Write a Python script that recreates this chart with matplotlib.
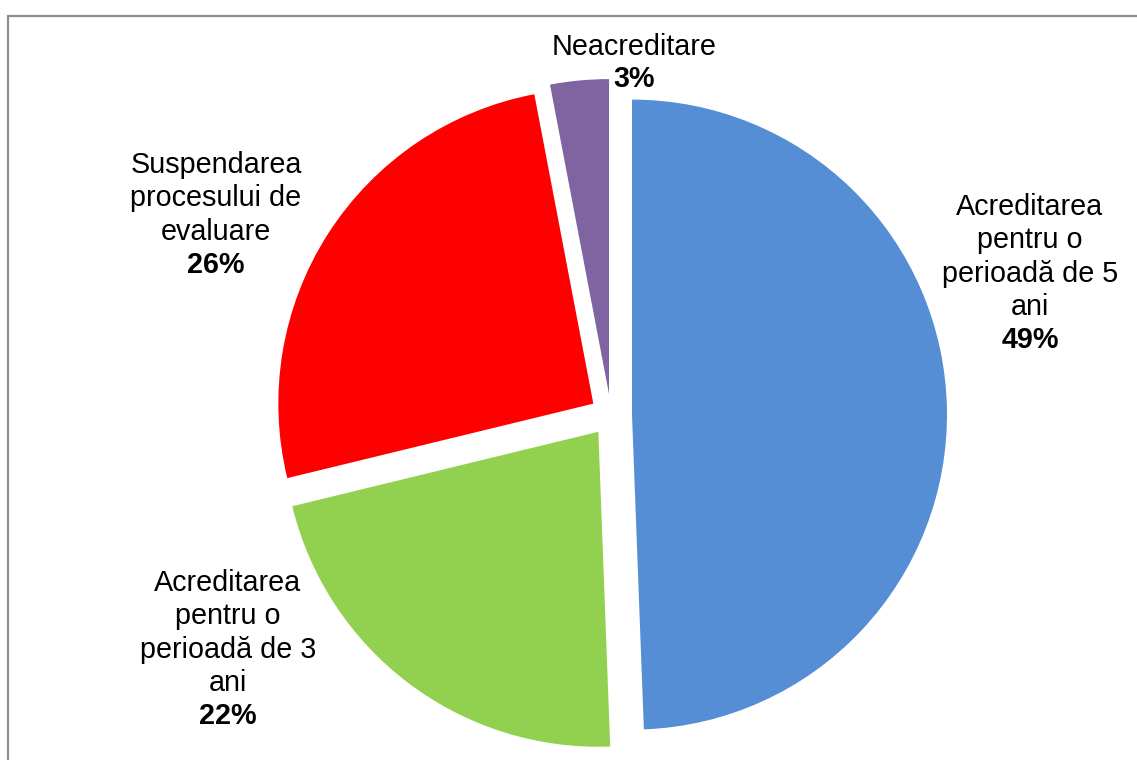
import matplotlib
matplotlib.use("Agg")
from matplotlib import pyplot as plt
from matplotlib.patches import Rectangle

# date
categorii = ["Acreditarea pentru o perioadă de 5 ani",
             "Acreditarea pentru o perioadă de 3 ani",
             "Suspendarea procesului de evaluare",
             "Neacreditare"]
valori = [49.4, 21.8, 25.8, 3.0]
culori = ["#558ED5", "#92D050", "#FF0000", "#8064A2"]

# randuri de eticheta (cum apar in grafic)
etichete = [["Acreditarea", "pentru o", "perioadă de 5", "ani"],
            ["Acreditarea", "pentru o", "perioadă de 3", "ani"],
            ["Suspendarea", "procesului de", "evaluare"],
            ["Neacreditare"]]

W, H = 1137, 760
fig = plt.figure(figsize=(W / 100, H / 100), dpi=100)
plt.rcParams['font.family'] = ['Liberation Sans', 'DejaVu Sans']

# centrul si raza placintei in pixeli
cx, cy, r = 611, 415, 315
ax = fig.add_axes([0, 0, 1, 1])
ax.pie(valori, colors=culori, startangle=90, counterclock=False,
       explode=[21 / r] * len(valori), radius=1,
       wedgeprops=dict(linewidth=0))
ax.set_xlim(-cx / r, (W - cx) / r)
ax.set_ylim(-(H - cy) / r, cy / r)
ax.set_aspect('equal')
ax.axis('off')

# chenar gri
fig.patches.append(Rectangle((8 / W, -0.1), 1.2, 1 - 16 / H + 0.1,
                             transform=fig.transFigure, fill=False,
                             edgecolor="#8c8c8c", linewidth=1.6))

# pozitii etichete: centru x, prima linie de baza, pas
poz = [(1030, 215), (228, 591), (216, 173), (634, 55)]
pas = 33.3
fs = 20.7
for linii, v, (x, y0) in zip(etichete, valori, poz):
    for i, t in enumerate(linii):
        fig.text(x / W, 1 - (y0 + i * pas) / H, t, ha='center',
                 va='baseline', fontsize=fs, color='black')
    yb = y0 + len(linii) * pas
    if len(linii) == 1:
        yb = y0 + 32
    fig.text(x / W, 1 - yb / H, f"{v:.0f}%", ha='center', va='baseline',
             fontsize=fs, fontweight='bold', color='black')

fig.savefig('out.png', dpi=100)
